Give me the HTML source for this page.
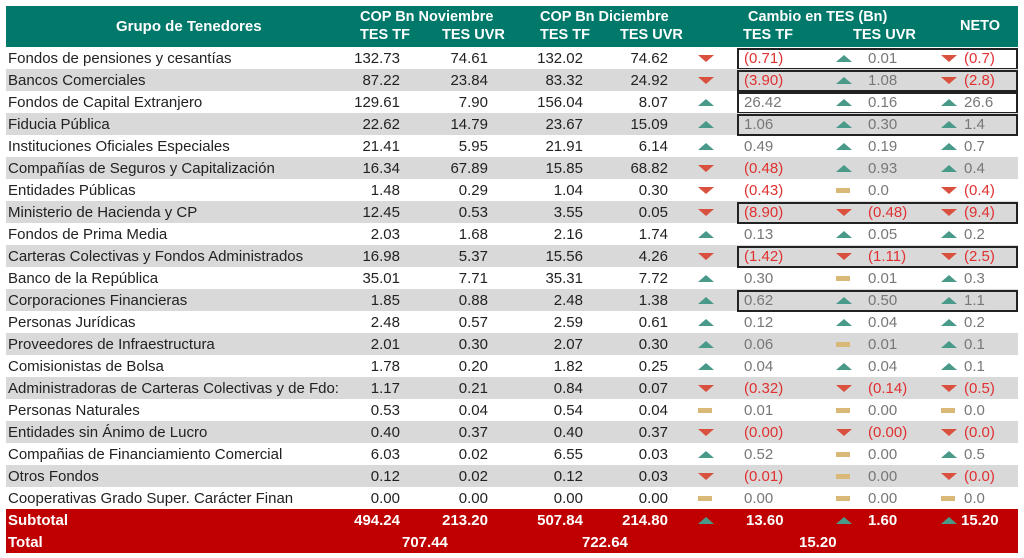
<!DOCTYPE html>
<html><head><meta charset="utf-8"><style>
body{margin:0;width:1024px;height:558px;background:#fff;font-family:"Liberation Sans",sans-serif;overflow:hidden;position:relative}
.hd{position:absolute;left:6px;top:6px;width:1012px;height:41px;background:#00796b;color:#fff;font-weight:bold;font-size:14.5px}
.hd span{position:absolute;white-space:nowrap}
.r{position:absolute;left:6px;width:1012px;height:22px;font-size:15px;color:#222;line-height:24px}
.r.g{background:#d9d9d9}
.r span{position:absolute;white-space:nowrap;top:0}
.n{left:2px}
.a{right:618px}.b{right:530px}.c{right:435px}.d{right:350px}
.t1{left:738px}.t2{left:862px}.t3{left:958px}
.gr{color:#777}.rd{color:#e03030}
.up,.dn,.ds{position:absolute;width:0;height:0;top:8px}
.up{border-left:8px solid transparent;border-right:8px solid transparent;border-bottom:7px solid #4a9a8a}
.dn{border-left:8px solid transparent;border-right:8px solid transparent;border-top:7px solid #d9503f}
.ds{width:14px;height:5px;background:#d9b878;top:9px}
.x1{left:692px}.x2{left:830px}.x3{left:935px}
.box{position:absolute;left:731px;width:277px;height:18px;top:1px;border:2px solid #222}
.s{position:absolute;left:6px;width:1012px;height:22px;background:#c00000;color:#fff;font-weight:bold;font-size:15px;line-height:23px}
.s span{position:absolute;white-space:nowrap}
</style></head><body>
<div class="hd">
<span style="left:110px;top:12px;font-size:15px">Grupo de Tenedores</span>
<span style="left:354px;top:3px">COP Bn Noviembre</span>
<span style="left:354px;top:21px">TES TF</span><span style="left:436px;top:21px">TES UVR</span>
<span style="left:534px;top:3px">COP Bn Diciembre</span>
<span style="left:534px;top:21px">TES TF</span><span style="left:614px;top:21px">TES UVR</span>
<span style="left:742px;top:3px">Cambio en TES (Bn)</span>
<span style="left:737px;top:21px">TES TF</span><span style="left:847px;top:21px">TES UVR</span>
<span style="left:954px;top:12px">NETO</span>
</div>

<div class="r" style="top:47px"><span class="n">Fondos de pensiones y cesantías</span><span class="a">132.73</span><span class="b">74.61</span><span class="c">132.02</span><span class="d">74.62</span><i class="dn x1"></i><div class="box"></div><span class="t1 rd">(0.71)</span><i class="up x2"></i><span class="t2 gr">0.01</span><i class="dn x3"></i><span class="t3 rd">(0.7)</span></div>
<div class="r g" style="top:69px"><span class="n">Bancos Comerciales</span><span class="a">87.22</span><span class="b">23.84</span><span class="c">83.32</span><span class="d">24.92</span><i class="dn x1"></i><div class="box"></div><span class="t1 rd">(3.90)</span><i class="up x2"></i><span class="t2 gr">1.08</span><i class="dn x3"></i><span class="t3 rd">(2.8)</span></div>
<div class="r" style="top:91px"><span class="n">Fondos de Capital Extranjero</span><span class="a">129.61</span><span class="b">7.90</span><span class="c">156.04</span><span class="d">8.07</span><i class="up x1"></i><div class="box"></div><span class="t1 gr">26.42</span><i class="up x2"></i><span class="t2 gr">0.16</span><i class="up x3"></i><span class="t3 gr">26.6</span></div>
<div class="r g" style="top:113px"><span class="n">Fiducia Pública</span><span class="a">22.62</span><span class="b">14.79</span><span class="c">23.67</span><span class="d">15.09</span><i class="up x1"></i><div class="box"></div><span class="t1 gr">1.06</span><i class="up x2"></i><span class="t2 gr">0.30</span><i class="up x3"></i><span class="t3 gr">1.4</span></div>
<div class="r" style="top:135px"><span class="n">Instituciones Oficiales Especiales</span><span class="a">21.41</span><span class="b">5.95</span><span class="c">21.91</span><span class="d">6.14</span><i class="up x1"></i><span class="t1 gr">0.49</span><i class="up x2"></i><span class="t2 gr">0.19</span><i class="up x3"></i><span class="t3 gr">0.7</span></div>
<div class="r g" style="top:157px"><span class="n">Compañías de Seguros y Capitalización</span><span class="a">16.34</span><span class="b">67.89</span><span class="c">15.85</span><span class="d">68.82</span><i class="dn x1"></i><span class="t1 rd">(0.48)</span><i class="up x2"></i><span class="t2 gr">0.93</span><i class="up x3"></i><span class="t3 gr">0.4</span></div>
<div class="r" style="top:179px"><span class="n">Entidades Públicas</span><span class="a">1.48</span><span class="b">0.29</span><span class="c">1.04</span><span class="d">0.30</span><i class="dn x1"></i><span class="t1 rd">(0.43)</span><i class="ds x2"></i><span class="t2 gr">0.0</span><i class="dn x3"></i><span class="t3 rd">(0.4)</span></div>
<div class="r g" style="top:201px"><span class="n">Ministerio de Hacienda y CP</span><span class="a">12.45</span><span class="b">0.53</span><span class="c">3.55</span><span class="d">0.05</span><i class="dn x1"></i><div class="box"></div><span class="t1 rd">(8.90)</span><i class="dn x2"></i><span class="t2 rd">(0.48)</span><i class="dn x3"></i><span class="t3 rd">(9.4)</span></div>
<div class="r" style="top:223px"><span class="n">Fondos de Prima Media</span><span class="a">2.03</span><span class="b">1.68</span><span class="c">2.16</span><span class="d">1.74</span><i class="up x1"></i><span class="t1 gr">0.13</span><i class="up x2"></i><span class="t2 gr">0.05</span><i class="up x3"></i><span class="t3 gr">0.2</span></div>
<div class="r g" style="top:245px"><span class="n">Carteras Colectivas y Fondos Administrados</span><span class="a">16.98</span><span class="b">5.37</span><span class="c">15.56</span><span class="d">4.26</span><i class="dn x1"></i><div class="box"></div><span class="t1 rd">(1.42)</span><i class="dn x2"></i><span class="t2 rd">(1.11)</span><i class="dn x3"></i><span class="t3 rd">(2.5)</span></div>
<div class="r" style="top:267px"><span class="n">Banco de la República</span><span class="a">35.01</span><span class="b">7.71</span><span class="c">35.31</span><span class="d">7.72</span><i class="up x1"></i><span class="t1 gr">0.30</span><i class="ds x2"></i><span class="t2 gr">0.01</span><i class="up x3"></i><span class="t3 gr">0.3</span></div>
<div class="r g" style="top:289px"><span class="n">Corporaciones Financieras</span><span class="a">1.85</span><span class="b">0.88</span><span class="c">2.48</span><span class="d">1.38</span><i class="up x1"></i><div class="box"></div><span class="t1 gr">0.62</span><i class="up x2"></i><span class="t2 gr">0.50</span><i class="up x3"></i><span class="t3 gr">1.1</span></div>
<div class="r" style="top:311px"><span class="n">Personas Jurídicas</span><span class="a">2.48</span><span class="b">0.57</span><span class="c">2.59</span><span class="d">0.61</span><i class="up x1"></i><span class="t1 gr">0.12</span><i class="up x2"></i><span class="t2 gr">0.04</span><i class="up x3"></i><span class="t3 gr">0.2</span></div>
<div class="r g" style="top:333px"><span class="n">Proveedores de Infraestructura</span><span class="a">2.01</span><span class="b">0.30</span><span class="c">2.07</span><span class="d">0.30</span><i class="up x1"></i><span class="t1 gr">0.06</span><i class="ds x2"></i><span class="t2 gr">0.01</span><i class="up x3"></i><span class="t3 gr">0.1</span></div>
<div class="r" style="top:355px"><span class="n">Comisionistas de Bolsa</span><span class="a">1.78</span><span class="b">0.20</span><span class="c">1.82</span><span class="d">0.25</span><i class="up x1"></i><span class="t1 gr">0.04</span><i class="up x2"></i><span class="t2 gr">0.04</span><i class="up x3"></i><span class="t3 gr">0.1</span></div>
<div class="r g" style="top:377px"><span class="n">Administradoras de Carteras Colectivas y de Fdo:</span><span class="a">1.17</span><span class="b">0.21</span><span class="c">0.84</span><span class="d">0.07</span><i class="dn x1"></i><span class="t1 rd">(0.32)</span><i class="dn x2"></i><span class="t2 rd">(0.14)</span><i class="dn x3"></i><span class="t3 rd">(0.5)</span></div>
<div class="r" style="top:399px"><span class="n">Personas Naturales</span><span class="a">0.53</span><span class="b">0.04</span><span class="c">0.54</span><span class="d">0.04</span><i class="ds x1"></i><span class="t1 gr">0.01</span><i class="ds x2"></i><span class="t2 gr">0.00</span><i class="ds x3"></i><span class="t3 gr">0.0</span></div>
<div class="r g" style="top:421px"><span class="n">Entidades sin Ánimo de Lucro</span><span class="a">0.40</span><span class="b">0.37</span><span class="c">0.40</span><span class="d">0.37</span><i class="dn x1"></i><span class="t1 rd">(0.00)</span><i class="dn x2"></i><span class="t2 rd">(0.00)</span><i class="dn x3"></i><span class="t3 rd">(0.0)</span></div>
<div class="r" style="top:443px"><span class="n">Compañias de Financiamiento Comercial</span><span class="a">6.03</span><span class="b">0.02</span><span class="c">6.55</span><span class="d">0.03</span><i class="up x1"></i><span class="t1 gr">0.52</span><i class="ds x2"></i><span class="t2 gr">0.00</span><i class="up x3"></i><span class="t3 gr">0.5</span></div>
<div class="r g" style="top:465px"><span class="n">Otros Fondos</span><span class="a">0.12</span><span class="b">0.02</span><span class="c">0.12</span><span class="d">0.03</span><i class="dn x1"></i><span class="t1 rd">(0.01)</span><i class="ds x2"></i><span class="t2 gr">0.00</span><i class="dn x3"></i><span class="t3 rd">(0.0)</span></div>
<div class="r" style="top:487px"><span class="n">Cooperativas Grado Super. Carácter Finan</span><span class="a">0.00</span><span class="b">0.00</span><span class="c">0.00</span><span class="d">0.00</span><i class="ds x1"></i><span class="t1 gr">0.00</span><i class="ds x2"></i><span class="t2 gr">0.00</span><i class="ds x3"></i><span class="t3 gr">0.0</span></div>

<div class="s" style="top:509px"><span style="left:2px">Subtotal</span><span style="right:618px">494.24</span><span style="right:530px">213.20</span><span style="right:435px">507.84</span><span style="right:350px">214.80</span><i class="up x1"></i><span style="left:740px">13.60</span><i class="up x2"></i><span style="left:862px">1.60</span><i class="up x3"></i><span style="left:955px">15.20</span></div>
<div class="s" style="top:531px"><span style="left:2px">Total</span><span style="left:396px">707.44</span><span style="left:576px">722.64</span><span style="left:793px">15.20</span></div>
</body></html>
